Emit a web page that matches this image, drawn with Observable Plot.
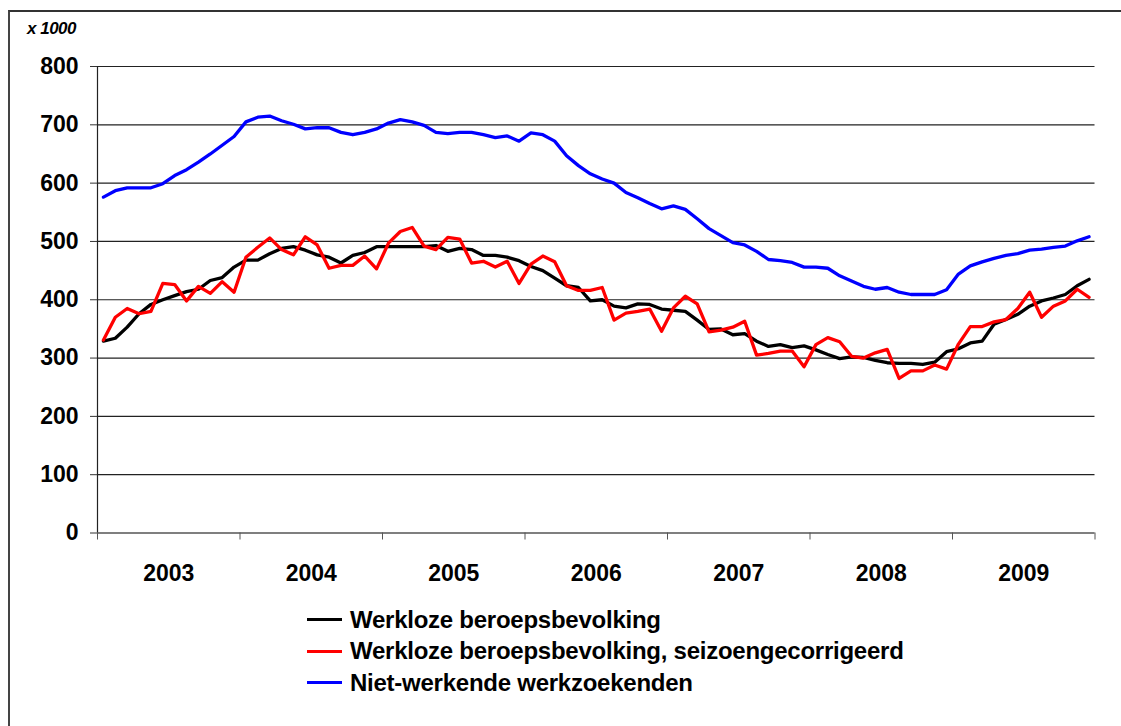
<!DOCTYPE html>
<html><head><meta charset="utf-8">
<script src="https://cdn.jsdelivr.net/npm/d3@7"></script>
<script src="https://cdn.jsdelivr.net/npm/@observablehq/plot@0.6"></script>
<style>
html,body{margin:0;padding:0;background:#fff;}
body{width:1121px;height:726px;overflow:hidden;position:relative;font-family:"Liberation Sans",Arial,sans-serif;}
#frame{position:absolute;left:8px;top:10px;width:1300px;height:900px;border-left:2px solid #444;border-top:2px solid #333;}
#unit{position:absolute;left:27px;top:19px;font-size:17px;font-weight:bold;font-style:italic;color:#000;letter-spacing:-0.5px;}
#chart{position:absolute;left:0;top:0;}
#legend{position:absolute;left:307px;top:604px;}
.row{display:flex;align-items:center;height:31.5px;}
.sw{width:35px;height:3px;margin-right:8px;}
.lt{font-size:24px;font-weight:bold;color:#000;letter-spacing:-0.25px;}
</style></head><body>
<div id="frame"></div>
<div id="unit">x 1000</div>
<div id="chart"></div>
<div id="legend"></div>
<script>
const years = [2003, 2004, 2005, 2006, 2007, 2008, 2009];
const yTicks = [0, 100, 200, 300, 400, 500, 600, 700, 800];
const seriesNames = ["Werkloze beroepsbevolking", "Werkloze beroepsbevolking, seizoengecorrigeerd", "Niet-werkende werkzoekenden"];
const seriesColors = ["#000000", "#ff0000", "#0000ff"];

const werkloos = [329,334,353,376,392,400,407,414,418,433,438,456,
  468,468,479,488,491,485,477,473,463,476,481,491,
  491,491,491,491,493,483,488,486,476,476,473,467,
  457,450,437,424,421,398,400,389,386,393,392,384,
  382,380,365,349,350,340,342,329,320,323,318,321,
  314,306,299,302,301,296,292,291,291,289,293,311,
  316,326,329,358,366,375,389,398,403,409,424,435];
const werkloosSc = [331,370,385,376,380,428,426,398,423,411,431,413,
  473,490,506,486,477,508,494,454,459,459,475,453,
  497,517,524,492,486,507,504,463,466,456,466,428,
  461,475,465,424,416,416,421,365,377,380,384,346,
  386,406,393,345,348,353,363,305,308,312,312,285,
  323,335,328,303,300,309,315,265,278,278,288,281,
  324,354,354,362,366,385,413,370,389,398,418,404];
const nww = [576,587,592,592,592,599,613,623,636,650,665,680,
  705,713,715,707,701,693,695,695,687,683,687,693,
  703,709,705,699,687,685,687,687,683,678,681,672,
  686,683,672,647,630,616,607,600,584,575,565,556,
  561,555,539,522,510,498,494,483,469,467,464,456,
  456,454,441,432,423,418,421,413,409,409,409,417,
  444,458,465,471,476,479,485,487,490,492,501,508];

const nMonths = years.length * 12;
const mx = (d, i) => i + 0.5;
const boundaries = d3.range(0, nMonths + 1, 12);
const centers = years.map((y, i) => i * 12 + 6);

const chart = Plot.plot({
  width: 1121,
  height: 600,
  marginLeft: 97,
  marginRight: 26.5,
  marginTop: 66,
  marginBottom: 67.5,
  style: {fontFamily: "'Liberation Sans', Arial, sans-serif", fontSize: "23px", fontWeight: "bold", color: "#000", background: "transparent"},
  x: {domain: [0, nMonths]},
  y: {domain: [0, 800]},
  marks: [
    Plot.ruleY(yTicks.filter(t => t > 0), {stroke: "#222", strokeWidth: 1.2}),
    Plot.ruleY([0], {stroke: "#555", strokeWidth: 1.5}),
    Plot.ruleX([0], {stroke: "#222", strokeWidth: 1.2}),
    Plot.axisY({ticks: yTicks, tickSize: 7, tickPadding: 12, tickFormat: d => String(d), stroke: "#333", fill: "#000"}),
    Plot.axisX({ticks: boundaries, tickSize: 7, tickFormat: () => "", stroke: "#555"}),
    Plot.axisX({ticks: centers, tickSize: 0, tickPadding: 32, tickFormat: (d, i) => String(years[i]), fill: "#000"}),
    Plot.line(nww, {x: mx, y: d => d, stroke: seriesColors[2], strokeWidth: 3.3}),
    Plot.line(werkloos, {x: mx, y: d => d, stroke: seriesColors[0], strokeWidth: 3.3}),
    Plot.line(werkloosSc, {x: mx, y: d => d, stroke: seriesColors[1], strokeWidth: 3.3})
  ]
});
document.getElementById("chart").appendChild(chart);

const legend = document.getElementById("legend");
seriesNames.forEach((name, i) => {
  const row = document.createElement("div");
  row.className = "row";
  const sw = document.createElement("div");
  sw.className = "sw";
  sw.style.background = seriesColors[i];
  const t = document.createElement("span");
  t.className = "lt";
  t.textContent = name;
  row.appendChild(sw);
  row.appendChild(t);
  legend.appendChild(row);
});
</script>
</body></html>
